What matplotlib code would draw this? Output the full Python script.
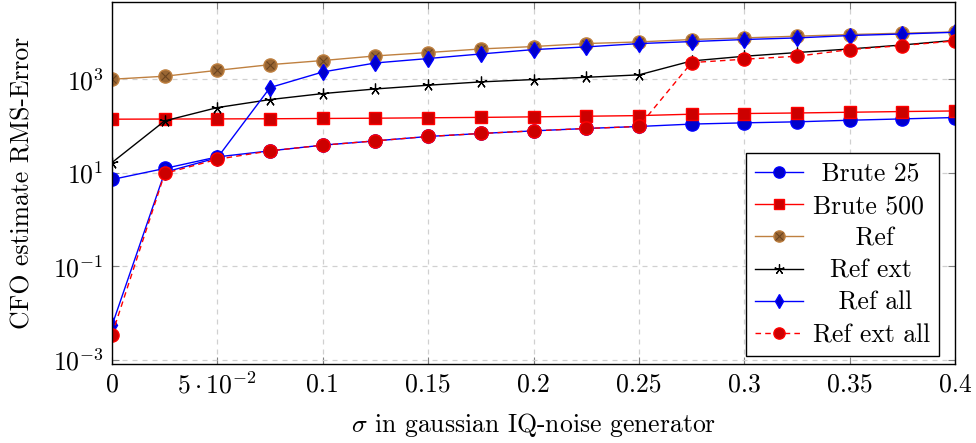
import matplotlib
matplotlib.use('Agg')
import matplotlib.pyplot as plt
from matplotlib.ticker import NullLocator, FixedLocator, FixedFormatter
from matplotlib.legend_handler import HandlerTuple

plt.rcParams['font.family'] = 'serif'
plt.rcParams['font.serif'] = ['cmr10', 'DejaVu Serif']
plt.rcParams['mathtext.fontset'] = 'cm'
plt.rcParams['axes.unicode_minus'] = False
plt.rcParams['axes.formatter.use_mathtext'] = True
fs = 18.5
plt.rcParams['font.size'] = fs

# data
sigma = [0, 0.025, 0.05, 0.075, 0.1, 0.125, 0.15, 0.175, 0.2,
         0.225, 0.25, 0.275, 0.3, 0.325, 0.35, 0.375, 0.4]
brute25 = [7.2, 12.4, 21.9, 29.5, 39.0, 48.2, 59.8, 69.3, 78.8,
           88.7, 97.8, 110, 117, 123, 133, 142, 152]
brute500 = [140, 141, 142, 143, 145, 147, 150, 153, 157,
            162, 167, 179, 185, 190, 197, 204, 210]
ref = [1000, 1160, 1550, 2050, 2510, 3150, 3720, 4440, 5000,
       5790, 6270, 7060, 7640, 8320, 9020, 9640, 10250]
ref_ext = [16.6, 129, 248, 368, 494, 620, 745, 877, 985,
           1100, 1240, 2460, 3100, 3720, 4440, 5400, 6800]
ref_all = [5.5e-3, 10.3, 21, 665, 1430, 2230, 2770, 3470, 4300,
           4910, 5780, 6380, 7060, 7640, 8590, 9270, 10100]
ref_ext_all = [3.5e-3, 9.7, 19.5, 29.5, 39.0, 48.2, 59.8, 69.3, 78.8,
               88.7, 97.8, 2270, 2680, 3100, 4300, 5250, 6600]

labels = ['Brute 25', 'Brute 500', 'Ref', 'Ref ext', 'Ref all', 'Ref ext all']
xticks = [0, 0.05, 0.1, 0.15, 0.2, 0.25, 0.3, 0.35, 0.4]
xticklabels = ['0', r'$5\cdot10^{-2}$', '0.1', '0.15', '0.2', '0.25', '0.3', '0.35', '0.4']
yticks = [1e-3, 1e-1, 1e1, 1e3]

fig = plt.figure(figsize=(9.76, 4.43), dpi=100)
ax = fig.add_axes([0.1148, 0.1783, 0.8637, 0.8161])

lw = 1.0
h1, = ax.plot(sigma, brute25, color='blue', lw=lw, marker='o', ms=9.5,
              mfc='#0000cc', mec='blue')
h2, = ax.plot(sigma, brute500, color='red', lw=lw, marker='s', ms=9,
              mfc='#cc0000', mec='red')
h3, = ax.plot(sigma, ref, color='#bf8040', lw=lw, marker='o', ms=9.5,
              mfc='#996633', mec='#bf8040')
h3x, = ax.plot(sigma, ref, ls='none', marker='x', ms=6, mew=0.8, color='#6b4420')
h4, = ax.plot(sigma, ref_ext, color='black', lw=lw, marker=(5, 2, 0), ms=8.5, mew=0.9)
h5, = ax.plot(sigma, ref_all, color='blue', lw=lw, marker='d', ms=8.5,
              mfc='#0000cc', mec='blue')
h6, = ax.plot(sigma, ref_ext_all, color='red', lw=lw, ls=(0, (4, 3)), marker='o', ms=9.5,
              mfc='#cc0000', mec='red')

ax.set_yscale('log')
ax.set_xlim(0, 0.4)
ax.set_ylim(8.2e-4, 4.37e4)
ax.yaxis.set_major_locator(FixedLocator(yticks))
ax.yaxis.set_minor_locator(NullLocator())
ax.xaxis.set_major_locator(FixedLocator(xticks))
ax.xaxis.set_major_formatter(FixedFormatter(xticklabels))

ax.grid(True, color='#d0d0d0', ls=(0, (4, 4)), lw=0.9)
ax.tick_params(direction='in', top=True, right=True, length=5, color='#808080',
               labelsize=fs, pad=6)
for s in ax.spines.values():
    s.set_linewidth(1.0)

ax.set_xlabel(r'$\sigma$ in gaussian IQ-noise generator', fontsize=fs, labelpad=9)
ax.set_ylabel('CFO estimate RMS-Error', fontsize=fs, labelpad=13)

# pad labels so they appear centred like in pgfplots
pads = [1, 0, 5, 2, 3, 0]
leg_labels = [' ' * p + l for p, l in zip(pads, labels)]
leg = ax.legend([h1, h2, (h3, h3x), h4, h5, h6], leg_labels,
                handler_map={tuple: HandlerTuple(ndivide=1, pad=0)},
                loc='lower right', bbox_to_anchor=(0.981, 0.022),
                fancybox=False, edgecolor='black', framealpha=1,
                fontsize=fs, labelspacing=0.33, handlelength=1.85,
                handletextpad=0.4, borderpad=0.35, borderaxespad=0,
                markerscale=0.85)
leg.get_frame().set_linewidth(1.0)

plt.savefig('out.png', dpi=100)
plt.close()
